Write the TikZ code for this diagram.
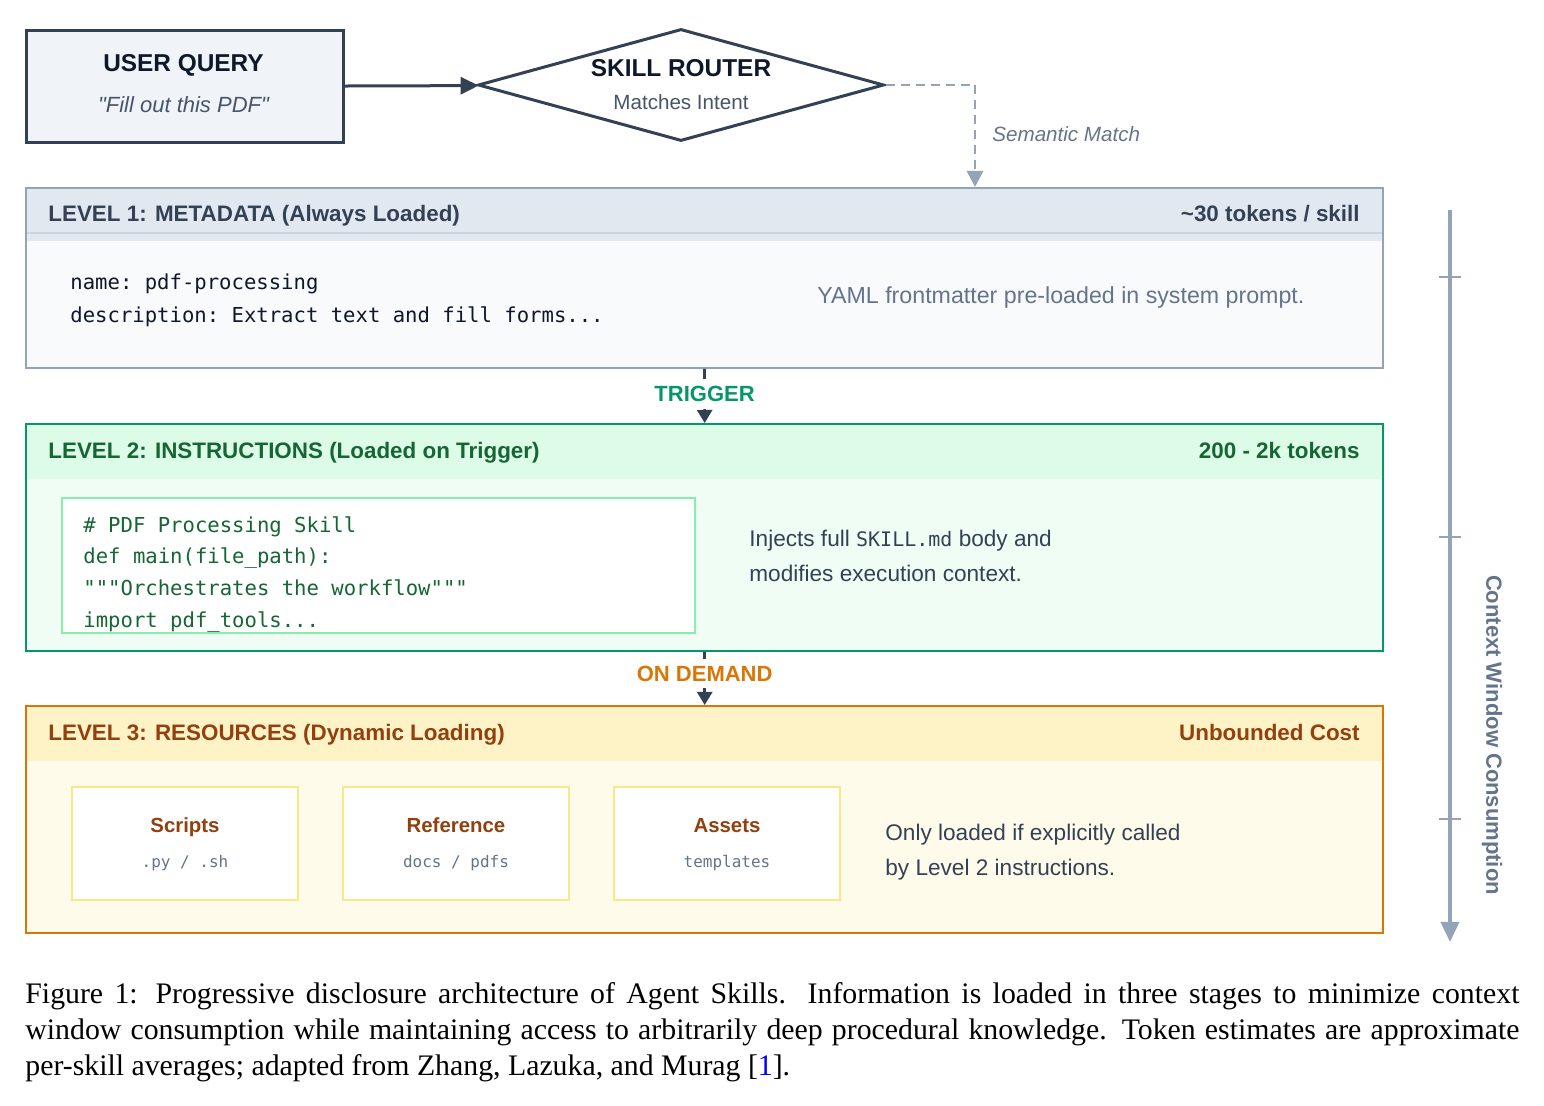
\documentclass[tikz,border=0pt]{standalone}
\usepackage{fontspec}
\setmainfont{Liberation Sans}
\setmonofont{DejaVu Sans Mono}
\newfontfamily\captionfont{Liberation Serif}
\usetikzlibrary{arrows.meta,shapes.geometric}

\definecolor{slatedark}{HTML}{334155}
\definecolor{slateink}{HTML}{0F172A}
\definecolor{slatemid}{HTML}{475569}
\definecolor{slategray}{HTML}{64748B}
\definecolor{slateline}{HTML}{94A3B8}
\definecolor{queryfill}{HTML}{F0F4F8}
\definecolor{metahead}{HTML}{E2E8F0}
\definecolor{metarule}{HTML}{CBD5E1}
\definecolor{metabody}{HTML}{F8FAFC}
\definecolor{instrline}{HTML}{059669}
\definecolor{instrhead}{HTML}{DCFCE7}
\definecolor{instrbody}{HTML}{F0FDF4}
\definecolor{instrcode}{HTML}{86EFAC}
\definecolor{instrtext}{HTML}{166534}
\definecolor{resline}{HTML}{D97706}
\definecolor{reshead}{HTML}{FEF3C7}
\definecolor{resbody}{HTML}{FFFBEB}
\definecolor{resbox}{HTML}{FDE68A}
\definecolor{restext}{HTML}{92400E}

\tikzset{
  levelbox/.style={draw, rectangle, anchor=north west, inner sep=0pt, minimum width=678.5pt},
  headtext/.style={font=\fontsize{11.2}{13}\selectfont\bfseries, inner sep=0pt},
  bodytext/.style={font=\fontsize{11.3}{13}\selectfont, text=slatedark, inner sep=0pt, anchor=base west},
  codetext/.style={font=\fontsize{10.3}{12}\ttfamily, inner sep=0pt, anchor=base west},
  stagelabel/.style={font=\fontsize{11}{13}\selectfont\bfseries, fill=white, inner xsep=2pt, inner ysep=3.5pt},
  stagearrow/.style={draw=slatedark, line width=1.3pt, -{Triangle[width=7.5pt,length=6.5pt]}},
  resitem/.style={draw=resbox, line width=1pt, fill=white, anchor=north west, minimum width=113pt, minimum height=56.5pt},
}

\begin{document}
\begin{tikzpicture}[x=0.5pt, y=-0.5pt]
    \useasboundingbox (0,0) rectangle (1544,1106);

    % Query box and router
    \node (query) [draw=slatedark, line width=1.5pt, fill=queryfill, anchor=north west,
        minimum width=158.5pt, minimum height=56pt] at (25,29) {};
    \node (querytitle) [font=\fontsize{12.2}{14}\selectfont\bfseries, text=slateink, anchor=base] at (183.5,72) {USER QUERY};
    \node (querytext) [font=\fontsize{11}{13}\selectfont\itshape, text=slatemid, anchor=base] at (183.5,113) {\textquotedbl Fill out this PDF\textquotedbl};

    \node (router) [diamond, draw=slatedark, line width=1.5pt, fill=white, inner sep=0pt,
        minimum width=203pt, minimum height=56pt] at (681,85) {};
    \node (routertitle) [font=\fontsize{12.2}{14}\selectfont\bfseries, text=slateink, anchor=base] at (681,77) {SKILL ROUTER};
    \node (routertext) [font=\fontsize{10.3}{12}\selectfont, text=slatemid, anchor=base] at (681,110) {Matches Intent};

    \draw[slatedark, line width=1.5pt, -{Triangle[length=9pt,width=8.5pt]}] (query) -- (router);

    % Semantic match into level 1
    \coordinate (matchend) at (975,187);
    \draw[slateline, line width=1.4pt, dash pattern=on 4.5pt off 3pt, -{Triangle[width=8pt,length=8pt]}] (router.east) -| (matchend);
    \node (matchlabel) [font=\fontsize{10.3}{12}\selectfont\itshape, text=slategray, anchor=base west, inner sep=0pt] at (992,142) {Semantic Match};

    % Level 1
    \node (meta) [levelbox, draw=slateline, line width=1pt, fill=metabody, minimum height=90pt, path picture={
        \fill[metahead] (path picture bounding box.north west) rectangle ([yshift=-26.5pt]path picture bounding box.north east);
        \draw[metarule, line width=1pt] ([yshift=-22.5pt]path picture bounding box.north west) -- ([yshift=-22.5pt]path picture bounding box.north east);
    }] at (25,187) {};
    \node (metatitle) [headtext, text=slatedark, anchor=base west] at (48,222) {LEVEL 1: METADATA (Always Loaded)};
    \node (metacost) [headtext, text=slatedark, anchor=base east] at (1360,222) {\textasciitilde30 tokens / skill};
    \node (metaname) [codetext, text=slateink] at (70,290) {name: pdf-processing};
    \node (metadesc) [codetext, text=slateink] at (70,323) {description: Extract text and fill forms...};
    \node (metanote) [bodytext, text=slategray, font=\fontsize{11.6}{13}\selectfont] at (817,304) {YAML frontmatter pre-loaded in system prompt.};

    % Level 2
    \node (instr) [levelbox, draw=instrline, line width=1.2pt, fill=instrbody, minimum height=113.5pt, path picture={
        \fill[instrhead] (path picture bounding box.north west) rectangle ([yshift=-27.5pt]path picture bounding box.north east);
    }] at (25,423) {};
    \node (instrtitle) [headtext, text=instrtext, anchor=base west] at (48,459) {LEVEL 2: INSTRUCTIONS (Loaded on Trigger)};
    \node (instrcost) [headtext, text=instrtext, anchor=base east] at (1360,459) {200 - 2k tokens};
    \node (code) [draw=instrcode, line width=0.8pt, fill=white, anchor=north west, inner sep=0pt,
        minimum width=316.5pt, minimum height=67.5pt] at (61,497) {};
    \node (codeone) [codetext, text=instrtext] at (83,533) {\# PDF Processing Skill};
    \node (codetwo) [codetext, text=instrtext] at (83,564) {def main(file\_path):};
    \node (codethree) [codetext, text=instrtext] at (83,596) {"""Orchestrates the workflow"""};
    \node (codefour) [codetext, text=instrtext] at (83,628) {import pdf\_tools...};
    \node (instrnote) [bodytext] at (749,547) {Injects full {\fontsize{10}{12}\ttfamily SKILL.md} body and};
    \node (instrnotetwo) [bodytext] at (749,582) {modifies execution context.};

    % Level 3
    \node (res) [levelbox, draw=resline, line width=1.2pt, fill=resbody, minimum height=113.5pt, path picture={
        \fill[reshead] (path picture bounding box.north west) rectangle ([yshift=-27.5pt]path picture bounding box.north east);
    }] at (25,705) {};
    \node (restitle) [headtext, text=restext, anchor=base west] at (48,741) {LEVEL 3: RESOURCES (Dynamic Loading)};
    \node (rescost) [headtext, text=restext, anchor=base east] at (1360,741) {Unbounded Cost};
    \foreach \name/\x/\title/\ext in {scripts/71/Scripts/{.py / .sh}, reference/342/Reference/{docs / pdfs}, assets/613/Assets/templates} {
        \node (\name) [resitem] at (\x,786) {};
        \node (\name title) [font=\fontsize{10.2}{12}\selectfont\bfseries, text=restext, anchor=base] at ([yshift=5.5pt]\name.center) {\title};
        \node (\name ext) [font=\fontsize{8}{10}\ttfamily, text=slategray, anchor=base] at ([yshift=-12pt]\name.center) {\ext};
    }
    \node (resnote) [bodytext] at (885,841) {Only loaded if explicitly called};
    \node (resnotetwo) [bodytext] at (885,876) {by Level 2 instructions.};

    % Stage connectors
    \draw[stagearrow] (meta.south) -- node[pos=0.46] (trigger) [stagelabel, text=instrline] {TRIGGER} (instr.north);
    \draw[stagearrow] (instr.south) -- node[pos=0.4] (ondemand) [stagelabel, text=resline] {ON DEMAND} (res.north);

    % Context window axis
    \coordinate (axtop) at (1450,210);
    \coordinate (axbot) at (1450,942);
    \draw[slateline, line width=1.8pt, -{Triangle[width=9pt,length=10pt]}] (axtop) -- (axbot);
    \foreach \t in {277,537,819}
        \draw[slateline, line width=1pt] (1439,\t) -- (1461,\t);
    \node (axlabel) [rotate=-90, font=\fontsize{11}{13}\selectfont\bfseries, text=slategray] at (1492,735) {Context Window Consumption};

    % Caption
    \node (caption) [anchor=north west, inner sep=0pt, text width=747pt, align=justify,
        font=\captionfont\fontsize{14.9}{18}\selectfont] at (25,978) {\strut Figure 1: Progressive disclosure architecture of Agent Skills. Information is loaded in three stages to minimize context\linebreak window consumption while maintaining access to arbitrarily deep procedural knowledge. Token estimates are approximate\linebreak per-skill averages; adapted from Zhang, Lazuka, and Murag [{\color{blue}1}].};
\end{tikzpicture}
\end{document}
